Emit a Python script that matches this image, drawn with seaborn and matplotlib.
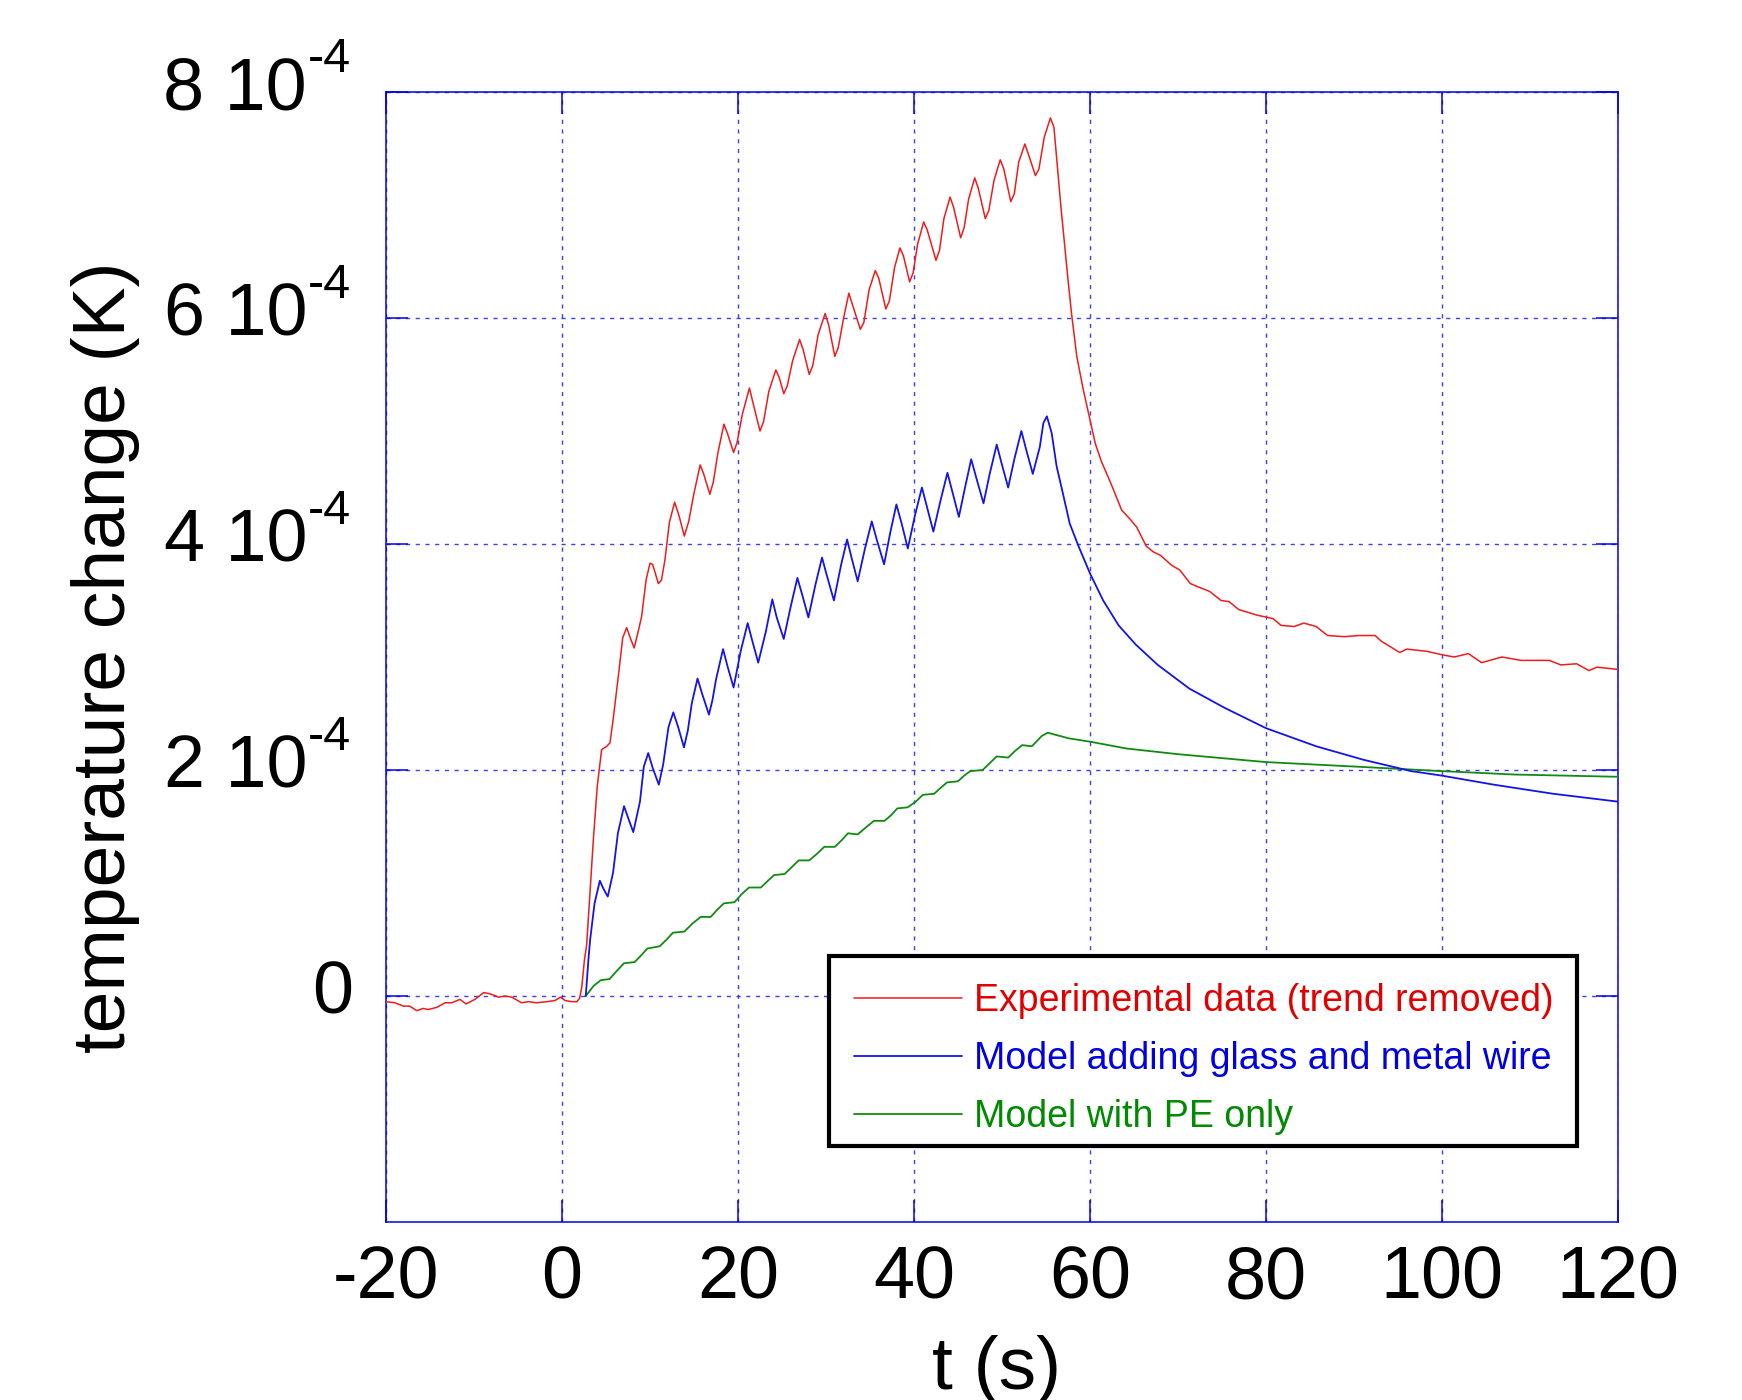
import numpy as np
import pandas as pd
import matplotlib
matplotlib.use("Agg")
import matplotlib.pyplot as plt
import matplotlib.transforms as mtransforms
from matplotlib.patches import Rectangle
import seaborn as sns
from matplotlib.ticker import FixedLocator, FixedFormatter

# ---------------- data (temperature change in units of 1e-4 K) ----------------
red_t = [-20, -19.0, -18.0, -17.3, -16.5, -15.8, -15.2, -14.2, -13.3, -12.5, -11.6, -10.9,
         -9.9, -8.9, -8.2, -7.2, -6.5, -5.7, -4.6, -3.8, -2.9, -1.7, -0.8, -0.15, 0.35,
         1.1, 1.7, 2.0, 2.25, 2.55, 2.8, 3.56, 4.0, 4.5, 5.08, 5.45, 5.8, 6.4, 6.9, 7.35,
         7.8, 8.2, 8.7, 9.05, 9.55, 10.0, 10.3, 10.95, 11.3, 11.7, 12.2, 12.8, 13.3, 13.9,
         14.4, 15.0, 15.7, 16.1, 16.8, 17.2, 17.7, 18.4, 18.8, 19.5, 19.9, 20.5, 21.3, 21.7,
         22.5, 22.9, 23.5, 24.3, 24.7, 25.2, 25.6, 26.2, 27.0, 27.4, 28.1, 28.5, 29.1, 29.9,
         30.3, 31.0, 31.4, 32.0, 32.6, 33.0, 33.9, 34.3, 34.9, 35.6, 36.0, 36.8, 37.2, 37.8,
         38.4, 38.8, 39.5, 39.9, 40.4, 41.1, 41.5, 42.5, 42.9, 43.4, 44.1, 44.5, 45.3, 45.7,
         46.2, 46.9, 47.3, 48.1, 48.5, 49.1, 49.8, 50.2, 51.0, 51.4, 51.9, 52.6, 53.0, 53.8,
         54.2, 54.8, 55.5, 55.9, 56.7, 57.5, 57.9, 58.5, 59.25, 60.0, 60.6, 61.3, 62.3, 63.6,
         64.55, 65.3, 66.4, 67.2, 68.0, 69.3, 70.2, 71.4, 72.3, 73.6, 74.9, 75.8, 76.9, 79.0,
         80.8, 81.7, 83.2, 84.3, 85.7, 87.0, 88.9, 90.6, 92.4, 93.1, 95.2, 96.0, 98.3, 100.0,
         101.4, 103.0, 104.5, 106.8, 109.0, 112.2, 113.5, 115.3, 116.7, 117.6, 120.0]
red_y = [-0.05, -0.06, -0.09, -0.09, -0.13, -0.11, -0.12, -0.10, -0.06, -0.06, -0.03, -0.07,
         -0.03, 0.03, 0.02, -0.01, 0.00, -0.01, -0.06, -0.05, -0.06, -0.05, -0.04, -0.01, -0.04,
         -0.05, -0.05, -0.02, 0.08, 0.32, 0.45, 1.38, 1.85, 2.18, 2.21, 2.24, 2.44, 2.83, 3.17, 3.26,
         3.16, 3.08, 3.24, 3.36, 3.68, 3.83, 3.82, 3.65, 3.68, 3.86, 4.19, 4.37, 4.25, 4.07,
         4.20, 4.45, 4.70, 4.62, 4.44, 4.55, 4.80, 5.06, 4.98, 4.81, 4.90, 5.15, 5.38, 5.25,
         5.00, 5.08, 5.35, 5.54, 5.47, 5.33, 5.40, 5.62, 5.81, 5.72, 5.50, 5.58, 5.85, 6.04,
         5.94, 5.66, 5.74, 6.00, 6.22, 6.12, 5.90, 5.96, 6.25, 6.42, 6.35, 6.08, 6.15, 6.45,
         6.62, 6.55, 6.32, 6.40, 6.65, 6.85, 6.78, 6.51, 6.60, 6.88, 7.07, 6.98, 6.71, 6.80,
         7.05, 7.24, 7.15, 6.88, 6.95, 7.22, 7.40, 7.32, 7.03, 7.10, 7.38, 7.54, 7.45, 7.26,
         7.32, 7.60, 7.77, 7.69, 6.98, 6.34, 6.04, 5.66, 5.36, 5.10, 4.89, 4.73, 4.55, 4.30,
         4.22, 4.15, 3.98, 3.93, 3.90, 3.81, 3.77, 3.65, 3.62, 3.58, 3.50, 3.49, 3.42, 3.37,
         3.34, 3.28, 3.27, 3.30, 3.27, 3.19, 3.18, 3.19, 3.19, 3.14, 3.04, 3.07, 3.05, 3.02,
         3.00, 3.03, 2.95, 3.00, 2.97, 2.97, 2.93, 2.94, 2.88, 2.91, 2.89]

blue_t = [2.7, 3.0, 3.2, 3.7, 4.3, 4.7, 5.2, 5.8, 6.35, 7.05, 7.5, 8.1, 8.86, 9.3, 9.8, 10.3,
          11.0, 11.5, 12.1, 12.65, 13.2, 13.86, 14.3, 14.75, 15.4, 15.9, 16.7, 17.1, 17.5, 18.3,
          18.8, 19.5, 20.3, 21.1, 21.6, 22.3, 23.15, 23.9, 24.4, 25.2, 26.0, 26.75, 27.3, 28.0,
          28.8, 29.55, 30.1, 30.9, 31.7, 32.4, 32.9, 33.6, 34.4, 35.2, 35.8, 36.6, 37.3, 38.0,
          38.6, 39.3, 40.1, 40.9, 41.5, 42.2, 43.0, 43.8, 44.4, 45.1, 45.8, 46.5, 47.1, 47.9,
          48.6, 49.4, 50.0, 50.7, 51.4, 52.2, 52.8, 53.5, 54.3, 54.7, 55.1, 55.65, 56.2, 57.0,
          57.7, 58.7, 60.0, 61.5, 63.25, 65.2, 67.7, 71.3, 75.3, 80.0, 85.7, 91.1, 96.5, 100.0,
          105.9, 112.6, 120.0]
blue_y = [0.00, 0.32, 0.50, 0.82, 1.02, 0.95, 0.88, 1.09, 1.44, 1.68, 1.58, 1.45, 1.72, 2.03,
          2.15, 2.02, 1.87, 2.05, 2.38, 2.51, 2.38, 2.20, 2.35, 2.59, 2.81, 2.68, 2.49, 2.62,
          2.80, 3.07, 2.92, 2.73, 3.05, 3.30, 3.15, 2.95, 3.22, 3.51, 3.35, 3.16, 3.45, 3.70,
          3.55, 3.35, 3.64, 3.88, 3.72, 3.50, 3.81, 4.04, 3.88, 3.67, 3.95, 4.20, 4.03, 3.82,
          4.10, 4.35, 4.18, 3.96, 4.25, 4.50, 4.32, 4.11, 4.38, 4.63, 4.45, 4.24, 4.50, 4.75,
          4.58, 4.36, 4.62, 4.88, 4.70, 4.50, 4.75, 5.00, 4.82, 4.62, 4.86, 5.07, 5.13, 4.98,
          4.69, 4.42, 4.18, 3.98, 3.74, 3.50, 3.28, 3.11, 2.93, 2.72, 2.55, 2.37, 2.21, 2.09,
          1.99, 1.95, 1.87, 1.79, 1.72]

green_t = [2.7, 3.6, 4.4, 5.4, 6.2, 7.05, 8.25, 9.0, 9.7, 11.1, 11.9, 12.6, 13.9, 14.8, 15.76,
           16.9, 17.6, 18.4, 19.6, 20.4, 21.25, 22.6, 23.4, 24.1, 25.3, 26.1, 26.9, 28.1, 29.0,
           29.8, 31.0, 31.8, 32.5, 33.6, 34.5, 35.45, 36.65, 37.4, 38.1, 39.3, 40.2, 41.0, 42.3,
           43.0, 43.75, 45.0, 45.7, 46.4, 47.8, 48.6, 49.4, 50.7, 51.5, 52.3, 53.4, 54.5, 55.2,
           57.6, 60.05, 64.15, 70.0, 80.0, 90.2, 100.0, 108.2, 120.0]
green_y = [0.00, 0.09, 0.14, 0.15, 0.22, 0.29, 0.30, 0.36, 0.42, 0.44, 0.50, 0.56, 0.57, 0.64,
           0.70, 0.70, 0.76, 0.82, 0.83, 0.90, 0.96, 0.96, 1.02, 1.07, 1.08, 1.14, 1.20, 1.20,
           1.26, 1.32, 1.32, 1.38, 1.44, 1.43, 1.49, 1.55, 1.55, 1.60, 1.66, 1.67, 1.72, 1.78,
           1.79, 1.84, 1.89, 1.90, 1.95, 1.99, 2.00, 2.06, 2.12, 2.11, 2.17, 2.22, 2.21, 2.30,
           2.33, 2.28, 2.25, 2.19, 2.14, 2.07, 2.03, 1.99, 1.96, 1.94]

series_labels = ["Experimental data (trend removed)",
                 "Model adding glass and metal wire",
                 "Model with PE only"]
x_ticks = [-20, 0, 20, 40, 60, 80, 100, 120]
y_ticks = [0, 2e-4, 4e-4, 6e-4, 8e-4]
y_tick_mantissa = ["0", "2 10", "4 10", "6 10", "8 10"]
y_tick_exponent = ["", "-4", "-4", "-4", "-4"]

# ---------------- style ----------------
sns.set_theme(style="white")
plt.rcParams["font.family"] = ["Liberation Sans", "DejaVu Sans"]
plt.rcParams["axes.unicode_minus"] = False

line_cols = ["#ee1c1c", "#1414e6", "#128a12"]
text_cols = ["#e00000", "#0000e0", "#008a00"]
axis_blue = "#0000ee"

W, H = 1742, 1400
fig = plt.figure(figsize=(W / 100, H / 100), dpi=100)
L, R, T, B = 386, 1618, 92, 1222
AW, AH = R - L, B - T
ax = fig.add_axes([L / W, 1 - B / H, AW / W, AH / H])

df_r = pd.DataFrame({"t": red_t, "T": np.array(red_y) * 1e-4})
df_b = pd.DataFrame({"t": blue_t, "T": np.array(blue_y) * 1e-4})
df_g = pd.DataFrame({"t": green_t, "T": np.array(green_y) * 1e-4})

sns.lineplot(data=df_r, x="t", y="T", ax=ax, color=line_cols[0], linewidth=1.1,
             estimator=None, sort=False, label=series_labels[0], zorder=5)
sns.lineplot(data=df_b, x="t", y="T", ax=ax, color=line_cols[1], linewidth=1.3,
             estimator=None, sort=False, label=series_labels[1], zorder=4)
sns.lineplot(data=df_g, x="t", y="T", ax=ax, color=line_cols[2], linewidth=1.3,
             estimator=None, sort=False, label=series_labels[2], zorder=3)

ax.set_xlim(-20, 120)
ax.set_ylim(-2e-4, 8e-4)
ax.xaxis.set_major_locator(FixedLocator(x_ticks))
ax.xaxis.set_major_formatter(FixedFormatter([str(v) for v in x_ticks]))
ax.yaxis.set_major_locator(FixedLocator(y_ticks))

ax.grid(True, color="#2a2aee", linestyle=(0, (3, 4)), linewidth=1.0, alpha=0.9)
for s in ax.spines.values():
    s.set_color(axis_blue)
    s.set_linewidth(1.1)
    s.set_visible(True)

ax.tick_params(direction="in", length=16, width=1.1, color=axis_blue,
               top=True, right=True, bottom=True, left=True,
               labelsize=53, labelcolor="black")
ax.tick_params(axis="x", pad=16)
ax.tick_params(axis="y", labelleft=False)

# y tick labels "n 10^-4" written as text (mantissa + raised exponent)
ytrans = ax.get_yaxis_transform()
for v, man, ex in zip(y_ticks, y_tick_mantissa, y_tick_exponent):
    if ex:
        tr_m = ytrans + mtransforms.ScaledTranslation(0, -0.18, fig.dpi_scale_trans)
        ax.text((307 - L) / AW, v, man, transform=tr_m, ha="right", va="baseline",
                fontsize=53, color="black", clip_on=False)
        tr_e = ytrans + mtransforms.ScaledTranslation(0, 0.20, fig.dpi_scale_trans)
        ax.text((351 - L) / AW, v, ex, transform=tr_e, ha="right", va="baseline",
                fontsize=35, color="black", clip_on=False)
    else:
        tr_m = ytrans + mtransforms.ScaledTranslation(0, -0.17, fig.dpi_scale_trans)
        ax.text((353 - L) / AW, v, man, transform=tr_m, ha="right", va="baseline",
                fontsize=53, color="black", clip_on=False)

ax.set_xlabel("t (s)", fontsize=54, color="black")
ax.set_ylabel("temperature change (K)", fontsize=54, color="black")
ax.xaxis.set_label_coords((997 - L) / AW, (B - 1335) / AH)
ax.yaxis.set_label_coords((140 - L) / AW, 0.5)

# ---------------- legend ----------------
frame = Rectangle(((829 - L) / AW, (B - 1146) / AH), (1577 - 829) / AW, (1146 - 956) / AH,
                  transform=ax.transAxes, facecolor="white", edgecolor="black",
                  linewidth=3, zorder=9, clip_on=False)
ax.add_patch(frame)

leg_pt = 27
F = leg_pt * 100 / 72.0
handles = ax.get_lines()[:3]
leg = ax.legend(handles, series_labels, loc="upper left",
                bbox_to_anchor=((854 - L) / AW, (B - 983) / AH),
                borderaxespad=0, borderpad=0, frameon=False,
                handlelength=108 / F, handletextpad=12 / F,
                labelspacing=22 / F, prop={"family": "Liberation Sans", "size": leg_pt})
for txt, c in zip(leg.get_texts(), text_cols):
    txt.set_color(c)
leg.set_zorder(10)

fig.savefig("out.png", dpi=100)
